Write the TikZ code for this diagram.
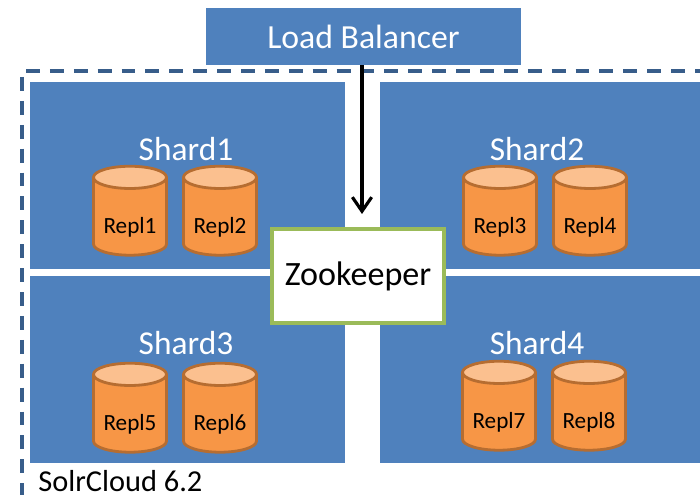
\documentclass[tikz,border=0pt]{standalone}
\usepackage{fontspec}
\setmainfont{Carlito}
\usetikzlibrary{shapes.geometric,arrows.meta}
\definecolor{shardblue}{HTML}{4F81BD}
\definecolor{frameblue}{HTML}{385D8A}
\definecolor{replfill}{HTML}{F79646}
\definecolor{repltop}{HTML}{FBC08F}
\definecolor{repledge}{HTML}{B66D31}
\definecolor{zkedge}{HTML}{9BBB59}
\tikzset{
    shardlabel/.style={text=white, font=\fontsize{19}{22}\selectfont, inner sep=0pt},
    frameline/.style={frameblue, line width=2.1pt, dash pattern=on 7.9pt off 5.7pt},
    repl/.style={shape=cylinder, shape border rotate=90, aspect=0.42, draw=repledge, line width=1.6pt,
        cylinder uses custom fill, cylinder body fill=replfill, cylinder end fill=repltop,
        minimum width=1.46cm, minimum height=1.78cm, inner sep=0pt, font=\fontsize{13.2}{16}\selectfont}
}

\begin{document}
\begin{tikzpicture}[x=0.02cm, y=-0.02cm]
    \useasboundingbox (0,0) rectangle (700,502);

    %% Shards
    \fill[shardblue] (30,82) rectangle (345,269);
    \fill[shardblue] (380,82) rectangle (700,269);
    \fill[shardblue] (30,276) rectangle (345,463);
    \fill[shardblue] (380,276) rectangle (700,463);
    \node[shardlabel] (shard1) at (186,149) {Shard1};
    \node[shardlabel] (shard2) at (537,149) {Shard2};
    \node[shardlabel] (shard3) at (186,343) {Shard3};
    \node[shardlabel] (shard4) at (537,343) {Shard4};

    %% Replicas
    \node[repl] (repl1) at (130,217) {\raisebox{-3.4ex}{Repl1}};
    \node[repl] (repl2) at (220,217) {\raisebox{-3.4ex}{Repl2}};
    \node[repl] (repl3) at (500,217) {\raisebox{-3.4ex}{Repl3}};
    \node[repl] (repl4) at (590,217) {\raisebox{-3.4ex}{Repl4}};
    \node[repl] (repl5) at (130,414) {\raisebox{-3.4ex}{Repl5}};
    \node[repl] (repl6) at (220,414) {\raisebox{-3.4ex}{Repl6}};
    \node[repl] (repl7) at (499,412) {\raisebox{-3.4ex}{Repl7}};
    \node[repl] (repl8) at (589,412) {\raisebox{-3.4ex}{Repl8}};

    %% SolrCloud frame
    \draw[frameline] (26,71) -- (700,71);
    \draw[frameline] (22,77) -- (22,495);
    \node[anchor=west, inner sep=0pt, font=\fontsize{17.3}{20}\selectfont] (cloud) at (38,481) {SolrCloud 6.2};

    %% Load balancer and arrow
    \node[fill=shardblue, text=white, minimum width=6.3cm, minimum height=1.14cm, inner sep=0pt,
        font=\fontsize{19.2}{22}\selectfont] (lb) at (363.5,36.5) {Load Balancer};
    \node[fill=white, draw=zkedge, line width=2pt, minimum width=3.44cm, minimum height=1.88cm, inner sep=0pt,
        font=\fontsize{19.4}{24}\selectfont] (zk) at (358,276) {Zookeeper};
    \coordinate (zktop) at (362,214);
    \draw[-{Straight Barb[length=8pt,width=11pt]}, line width=1.8pt] (lb.south -| zktop) -- (zktop);

\end{tikzpicture}
\end{document}
